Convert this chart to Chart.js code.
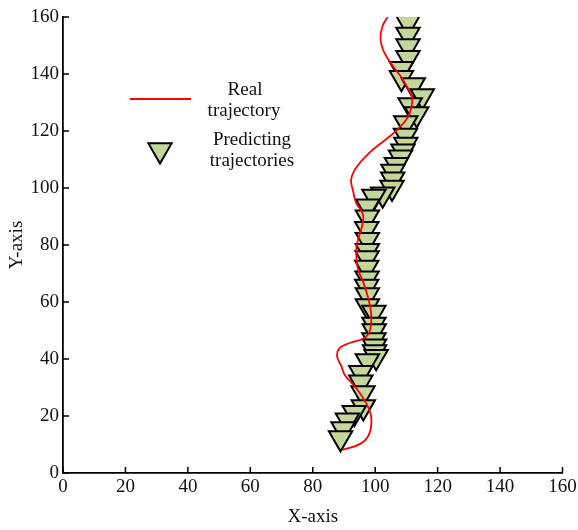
<!DOCTYPE html>
<html>
<head>
<meta charset="utf-8">
<title>Trajectory</title>
<script src="https://cdn.jsdelivr.net/npm/chart.js@4.4.1/dist/chart.umd.min.js"></script>
<style>
  html, body { margin: 0; padding: 0; background: #fff; }
  #holder { width: 578px; height: 530px; }
</style>
</head>
<body>
<div id="holder"><canvas id="myChart" width="578" height="530"></canvas></div>
<script>
// real path, bottom to top
var realX = [89.5, 95.5, 98.2, 98.7, 97.1, 93.9, 90.2, 89.2, 87.8, 88.6, 91.8, 96.6, 98.4, 98.7, 97.6, 96.0,
             94.5, 93.9, 94.5, 95.8, 96.1, 93.9, 92.9, 92.3, 93.9, 98.2, 103.5, 107.2, 110.4, 111.7, 111.8,
             110.9, 108.8, 105.6, 102.9, 101.7, 102.4, 104.2]
var realY = [8.1, 10.4, 14.0, 19.8, 24.5, 29.8, 34.5, 37.4, 40.9, 43.8, 45.6, 47.4, 50.3, 56.2, 62.0, 67.5,
             71.4, 77.8, 81.9, 86.6, 90.7, 94.8, 99.0, 103.0, 107.1, 112.4, 117.1, 120.6, 124.7, 128.8, 131.8,
             134.1, 138.2, 142.9, 147.6, 152.3, 156.9, 160.4]

// predicted positions, top to bottom
var predX = [110.5, 110.5, 110.5, 110.5, 108.4, 108.4, 112.2, 115.1, 111.2, 113.3, 109.8, 109.7, 109.8, 108.9,
             108.1, 106.8, 105.7, 105.6, 105.4, 102.4, 99.6, 97.6, 97.5, 97.3, 97.5, 97.5, 97.4, 97.3, 97.4,
             97.3, 97.5, 97.5, 99.6, 99.6, 99.7, 99.6, 99.8, 99.8, 100.3, 97.5, 95.4, 95.4, 96.1, 96.2, 93.3,
             91.1, 89.7, 88.9]
var predY = [158.0, 153.9, 149.8, 145.7, 141.8, 138.7, 136.1, 132.3, 129.1, 126.0, 122.8, 118.4, 115.3, 112.9,
             110.8, 108.2, 105.8, 103.1, 100.2, 97.8, 97.0, 93.6, 89.7, 85.7, 81.8, 78.0, 75.4, 72.1, 68.3,
             65.4, 62.5, 58.6, 56.3, 52.1, 49.8, 46.7, 44.5, 42.5, 40.8, 39.3, 35.2, 31.8, 28.1, 23.2, 21.1,
             18.5, 15.4, 12.3]

var xTicks = [0, 20, 40, 60, 80, 100, 120, 140, 160]
var yTicks = [0, 20, 40, 60, 80, 100, 120, 140, 160]

var legendLabels = [['Real', 'trajectory'], ['Predicting', 'trajectories']]

var FONT = 'Liberation Serif, Times New Roman, serif'
var triFill = '#c4d79b'

function toPoints(xs, ys) {
  var pts = []
  for (var i = 0; i < xs.length; i++) pts.push({x: xs[i], y: ys[i]})
  return pts
}

// short tick marks pointing into the plot
var innerTicks = {
  id: 'innerTicks',
  afterDraw: function(chart) {
    var ctx = chart.ctx, a = chart.chartArea
    var xs = chart.scales.x, ys = chart.scales.y
    ctx.save()
    ctx.strokeStyle = '#000'
    ctx.lineWidth = 1.5
    ctx.beginPath()
    xTicks.forEach(function(v) {
      var p = xs.getPixelForValue(v)
      ctx.moveTo(p, a.bottom); ctx.lineTo(p, a.bottom - 6)
    })
    yTicks.forEach(function(v) {
      var p = ys.getPixelForValue(v)
      ctx.moveTo(a.left, p); ctx.lineTo(a.left + 6, p)
    })
    ctx.stroke()
    ctx.restore()
  }
}

// legend with two-line centred labels
var twoLineLegend = {
  id: 'twoLineLegend',
  afterDraw: function(chart) {
    var ctx = chart.ctx
    var line = chart.data.datasets[0], tri = chart.data.datasets[1]
    ctx.save()
    ctx.strokeStyle = line.borderColor
    ctx.lineWidth = line.borderWidth
    ctx.beginPath()
    ctx.moveTo(130, 99); ctx.lineTo(191, 99)
    ctx.stroke()

    // same marker as the dataset, apex down
    ctx.fillStyle = tri.backgroundColor
    ctx.strokeStyle = tri.borderColor
    ctx.lineWidth = tri.borderWidth
    Chart.helpers.drawPoint(ctx, {
      pointStyle: tri.pointStyle, rotation: tri.pointRotation, radius: tri.pointRadius,
      borderWidth: tri.borderWidth
    }, 160, 150)

    ctx.fillStyle = '#111'
    ctx.font = '19px ' + FONT
    ctx.textAlign = 'center'
    ctx.textBaseline = 'alphabetic'
    ctx.fillText(legendLabels[0][0], 245, 95)
    ctx.fillText(legendLabels[0][1], 244, 116)
    ctx.fillText(legendLabels[1][0], 252, 145)
    ctx.fillText(legendLabels[1][1], 252, 166)
    ctx.restore()
  }
}

var myChart = new Chart(document.getElementById('myChart').getContext('2d'), {
  type: 'scatter',
  data: {
    datasets: [{
      label: 'Real trajectory',
      data: toPoints(realX, realY),
      showLine: true,
      tension: 0.4,
      borderColor: '#ff0000',
      borderWidth: 1.8,
      pointRadius: 0,
      fill: false
    }, {
      label: 'Predicting trajectories',
      data: toPoints(predX, predY),
      pointStyle: 'triangle',
      pointRotation: 180,
      pointRadius: 13.5,
      backgroundColor: triFill,
      borderColor: '#000',
      borderWidth: 2
    }]
  },
  options: {
    responsive: false,
    maintainAspectRatio: false,
    animation: false,
    events: [],
    layout: { padding: { left: 0, top: 17, right: 12, bottom: 0 } },
    plugins: { legend: { display: false }, tooltip: { enabled: false } },
    scales: {
      x: {
        type: 'linear', min: 0, max: 160,
        afterBuildTicks: function(s) { s.ticks = xTicks.map(function(v) { return {value: v} }) },
        afterFit: function(s) { s.height = 57; s.paddingLeft = 0; s.paddingRight = 0 },
        grid: { display: true, drawOnChartArea: false, drawTicks: false },
        border: { color: '#000', width: 1.8 },
        ticks: { color: '#111', padding: 3, maxRotation: 0, font: { family: FONT, size: 19 } },
        title: { display: true, text: 'X-axis', color: '#111', padding: { top: 0, bottom: 2 },
                 font: { family: FONT, size: 19 } }
      },
      y: {
        type: 'linear', min: 0, max: 160,
        afterBuildTicks: function(s) { s.ticks = yTicks.map(function(v) { return {value: v} }) },
        afterFit: function(s) { s.width = 63; s.paddingTop = 0; s.paddingBottom = 0 },
        grid: { display: true, drawOnChartArea: false, drawTicks: false },
        border: { color: '#000', width: 1.8 },
        ticks: { color: '#111', padding: 4, font: { family: FONT, size: 19 } },
        title: { display: true, text: 'Y-axis', color: '#111', padding: { top: 6, bottom: 0 },
                 font: { family: FONT, size: 19 } }
      }
    }
  },
  plugins: [innerTicks, twoLineLegend]
})
</script>
</body>
</html>
